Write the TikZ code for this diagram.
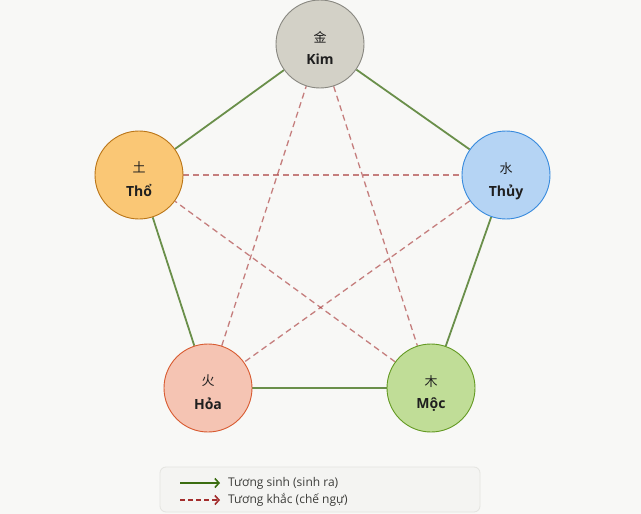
\documentclass[tikz,border=0pt]{standalone}
\usepackage{fontspec}
\setmainfont{Open Sans}
\newfontfamily\cjk{Noto Sans CJK SC}
\usetikzlibrary{arrows.meta, positioning, backgrounds}
\definecolor{bgpaper}{HTML}{F8F8F6}
\definecolor{kimfill}{HTML}{D3D1C7}
\definecolor{kimline}{HTML}{888780}
\definecolor{thofill}{HTML}{FAC775}
\definecolor{tholine}{HTML}{BA7517}
\definecolor{thuyfill}{HTML}{B5D4F4}
\definecolor{thuyline}{HTML}{378ADD}
\definecolor{hoafill}{HTML}{F5C4B3}
\definecolor{hoaline}{HTML}{D85A30}
\definecolor{mocfill}{HTML}{C0DD97}
\definecolor{mocline}{HTML}{639922}
\definecolor{sinhgreen}{HTML}{3B6D11}
\definecolor{khacred}{HTML}{A32D2D}
\definecolor{legendbg}{HTML}{F4F4F2}
\definecolor{legendline}{HTML}{E4E4E0}
\definecolor{txtdark}{HTML}{1F1F1F}
\definecolor{txtgray}{HTML}{3D3D3A}
\tikzset{
  elem/.style 2 args={
    circle, draw=#2, fill=#1, line width=0.9pt, minimum size=88pt,
    inner sep=0pt, text=txtdark
  },
  sinh/.style={line width=1.8pt, draw=sinhgreen, draw opacity=0.75},
  khac/.style={line width=1.3pt, draw=khacred, draw opacity=0.6, dash pattern=on 6pt off 4pt},
  legtext/.style={font=\fontsize{12}{14}\selectfont, text=txtgray, anchor=west, inner sep=0pt}
}
\newcommand{\elemlabel}[2]{\raisebox{0pt}[\dimexpr\height+12pt\relax][\depth]{%
  \begin{tabular}{@{}c@{}}{\cjk\fontsize{13}{15}\selectfont #1}\\[8pt]%
  {\fontsize{14}{16}\selectfont\bfseries #2}\end{tabular}}}

\begin{document}
\begin{tikzpicture}[x=1pt, y=-1pt]
  \useasboundingbox (0,0) rectangle (641,514);

  % the five elements
  \node[elem={kimfill}{kimline}] (kim) at (320,44) {\elemlabel{金}{Kim}};
  \node[elem={thofill}{tholine}] (tho) at (139,175) {\elemlabel{土}{Thổ}};
  \node[elem={thuyfill}{thuyline}] (thuy) at (506,175) {\elemlabel{水}{Thủy}};
  \node[elem={hoafill}{hoaline}] (hoa) at (208,388) {\elemlabel{火}{Hỏa}};
  \node[elem={mocfill}{mocline}] (moc) at (431,388) {\elemlabel{木}{Mộc}};

  % connectors behind the circles
  \begin{pgfonlayer}{background}
    \fill[bgpaper] (0,0) rectangle (641,514);
    \foreach \a/\b in {kim/thuy, thuy/moc, moc/hoa, hoa/tho, tho/kim}
      \draw[sinh] (\a) -- (\b);
    \foreach \a/\b in {kim/moc, moc/tho, tho/thuy, thuy/hoa, hoa/kim}
      \draw[khac] (\a) -- (\b);
  \end{pgfonlayer}

  % legend
  \node[draw=legendline, fill=legendbg, rounded corners=6pt, line width=0.8pt,
        minimum width=320pt, minimum height=45pt] (legend) at (320,489.5) {};
  \coordinate (s1) at (180,483);
  \coordinate (s2) at (220,483);
  \coordinate (k1) at (180,500);
  \coordinate (k2) at (220,500);
  \draw[sinh, draw opacity=1, line width=1.6pt, -{Straight Barb[length=4pt, width=9pt]}] (s1) -- (s2);
  \draw[khac, draw opacity=1, line width=1.6pt, dash pattern=on 5pt off 3pt,
        -{Straight Barb[length=4pt, width=9pt]}] (k1) -- (k2);
  \node[legtext] (lsinh) at (228,483) {Tương sinh (sinh ra)};
  \node[legtext] (lkhac) at (228,500) {Tương khắc (chế ngự)};
\end{tikzpicture}
\end{document}
